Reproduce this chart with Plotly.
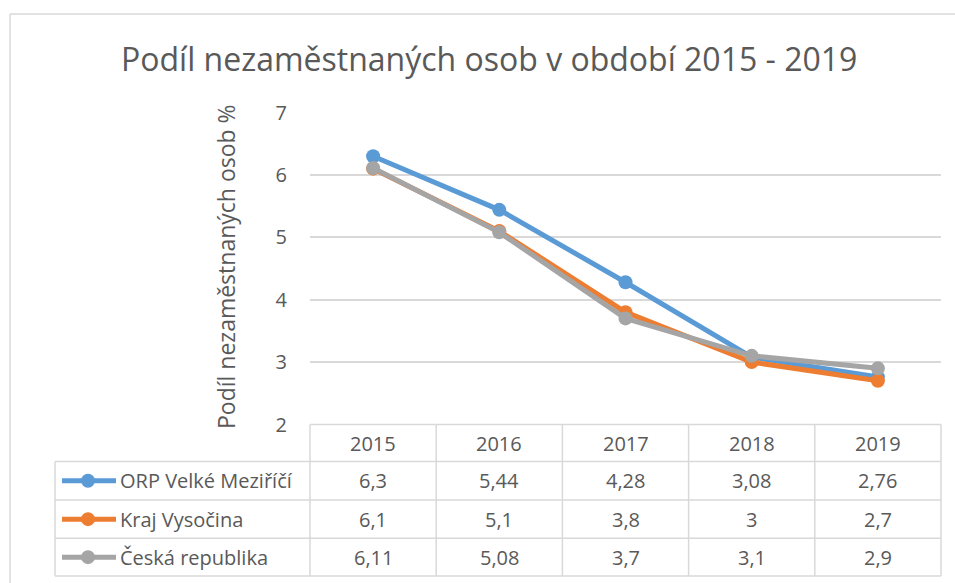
import plotly.graph_objects as go

# Data
years = ["2015", "2016", "2017", "2018", "2019"]
series_names = ["ORP Velké Meziříčí", "Kraj Vysočina", "Česká republika"]
orp_vm = [6.3, 5.44, 4.28, 3.08, 2.76]
kraj_vysocina = [6.1, 5.1, 3.8, 3.0, 2.7]
ceska_republika = [6.11, 5.08, 3.7, 3.1, 2.9]
series_values = [orp_vm, kraj_vysocina, ceska_republika]
series_colors = ["#5B9BD5", "#ED7D31", "#A5A5A5"]

title_text = "Podíl nezaměstnaných osob v období 2015 - 2019"
y_title = "Podíl nezaměstnaných osob %"

W, H = 955, 583
FONT = "Open Sans"
TXT = "#595959"
GRID = "#D9D9D9"

# Plot area in pixels
px_left, px_right = 310, 941
py_top, py_bottom = 112.5, 424.5
# Data table geometry (pixels)
tbl_left = 55
row_edges = [424.5, 461.5, 500, 538.3, 576]


def fx(p):
    return p / W


def fy(p):
    return 1 - p / H


fig = go.Figure()

x_idx = list(range(len(years)))
for name, vals, col in zip(series_names, series_values, series_colors):
    fig.add_trace(go.Scatter(
        x=x_idx, y=vals, mode="lines+markers", name=name,
        line=dict(color=col, width=5),
        marker=dict(color=col, size=14),
        showlegend=False, hoverinfo="skip",
    ))

shapes = []
# Chart frame (left and top edges)
frame = dict(color="#D9D9D9", width=1.5)
shapes.append(dict(type="line", xref="paper", yref="paper",
                   x0=fx(10), x1=1, y0=fy(14), y1=fy(14), line=frame))
shapes.append(dict(type="line", xref="paper", yref="paper",
                   x0=fx(10), x1=fx(10), y0=fy(14), y1=0, line=frame))

# Legend keys inside the table
for i, col in enumerate(series_colors):
    yc = (row_edges[i + 1] + row_edges[i + 2]) / 2
    shapes.append(dict(type="line", xref="paper", yref="paper",
                       x0=fx(62), x1=fx(116), y0=fy(yc), y1=fy(yc),
                       line=dict(color=col, width=5)))
    shapes.append(dict(type="circle", xref="paper", yref="paper",
                       x0=fx(88 - 7), x1=fx(88 + 7), y0=fy(yc + 7), y1=fy(yc - 7),
                       fillcolor=col, line=dict(color=col, width=0)))

# Table lines
col_edges = [px_left + (px_right - px_left) * k / len(years) for k in range(len(years) + 1)]
tbl_line = dict(color=GRID, width=1.5)
shapes.append(dict(type="line", xref="paper", yref="paper",
                   x0=fx(px_left), x1=fx(px_right), y0=fy(row_edges[0]), y1=fy(row_edges[0]),
                   line=tbl_line))
for r in row_edges[1:]:
    shapes.append(dict(type="line", xref="paper", yref="paper",
                       x0=fx(tbl_left), x1=fx(px_right), y0=fy(r), y1=fy(r), line=tbl_line))
for c in col_edges:
    shapes.append(dict(type="line", xref="paper", yref="paper",
                       x0=fx(c), x1=fx(c), y0=fy(row_edges[0]), y1=fy(row_edges[-1]),
                       line=tbl_line))
shapes.append(dict(type="line", xref="paper", yref="paper",
                   x0=fx(tbl_left), x1=fx(tbl_left), y0=fy(row_edges[1]), y1=fy(row_edges[-1]),
                   line=tbl_line))

annotations = []
TBL_FONT = dict(family=FONT, size=20, color=TXT)
# Header: years
for k, yr in enumerate(years):
    cx = (col_edges[k] + col_edges[k + 1]) / 2
    annotations.append(dict(x=fx(cx), y=fy((row_edges[0] + row_edges[1]) / 2),
                            xref="paper", yref="paper", text=yr, showarrow=False,
                            font=TBL_FONT, xanchor="center", yanchor="middle"))
# Rows: series name + values
for i, (name, vals) in enumerate(zip(series_names, series_values)):
    cy = (row_edges[i + 1] + row_edges[i + 2]) / 2
    annotations.append(dict(x=fx(118), y=fy(cy), xref="paper", yref="paper",
                            text=name, showarrow=False, font=TBL_FONT,
                            xanchor="left", yanchor="middle"))
    for k, v in enumerate(vals):
        cx = (col_edges[k] + col_edges[k + 1]) / 2
        label = ("%g" % v).replace(".", ",")
        annotations.append(dict(x=fx(cx), y=fy(cy), xref="paper", yref="paper",
                                text=label, showarrow=False, font=TBL_FONT,
                                xanchor="center", yanchor="middle"))

# Title
annotations.append(dict(x=fx(489), y=fy(59), xref="paper", yref="paper",
                        text=title_text, showarrow=False,
                        font=dict(family=FONT, size=32, color=TXT),
                        xanchor="center", yanchor="middle"))
# Y-axis title
annotations.append(dict(x=fx(226), y=fy(267), xref="paper", yref="paper",
                        text=y_title, showarrow=False, textangle=-90,
                        font=dict(family=FONT, size=23, color=TXT),
                        xanchor="center", yanchor="middle"))

fig.update_layout(
    width=W, height=H,
    margin=dict(l=0, r=0, t=0, b=0, autoexpand=False),
    paper_bgcolor="white", plot_bgcolor="white",
    xaxis=dict(domain=[fx(px_left), fx(px_right)], range=[-0.5, 4.5],
               showgrid=False, zeroline=False, showticklabels=False,
               automargin=False, fixedrange=True),
    yaxis=dict(domain=[fy(py_bottom), fy(py_top)], range=[2, 7], dtick=1,
               showgrid=True, gridcolor=GRID, gridwidth=1.5, zeroline=False,
               tickfont=dict(family=FONT, size=20, color=TXT),
               ticks="", ticklabelstandoff=22, automargin=False, fixedrange=True),
    shapes=shapes,
    annotations=annotations,
)

fig.write_html("out.html")
